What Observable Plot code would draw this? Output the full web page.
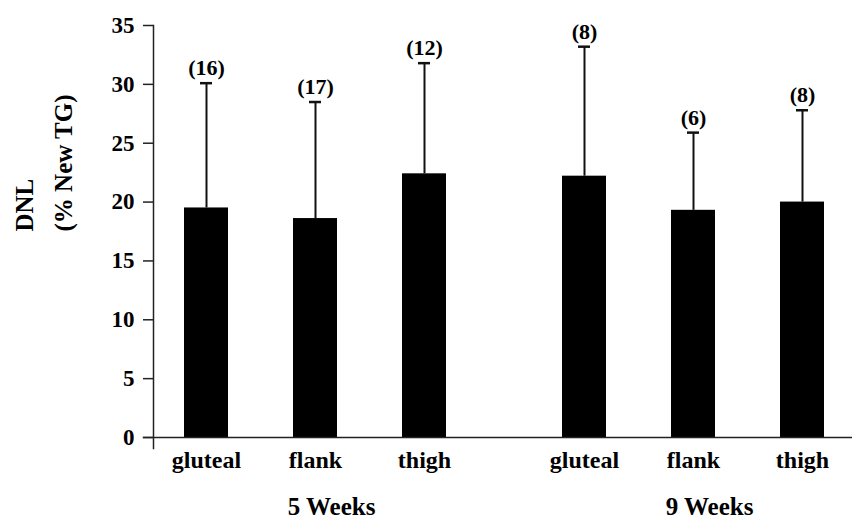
<!DOCTYPE html>
<html><head><meta charset="utf-8">
<script src="https://cdn.jsdelivr.net/npm/d3@7"></script>
<script src="https://cdn.jsdelivr.net/npm/@observablehq/plot@0.6"></script>
<style>
html,body{margin:0;padding:0;background:#fff;}
</style></head><body><div id="chart"></div>
<script>
const groups = ["5 Weeks","5 Weeks","5 Weeks","9 Weeks","9 Weeks","9 Weeks"];
const sites = ["gluteal","flank","thigh","gluteal","flank","thigh"];
const means = [19.5, 18.6, 22.4, 22.2, 19.3, 20.0];
const sds = [10.6, 9.9, 9.4, 11.0, 6.6, 7.8];
const nLabels = ["(16)","(17)","(12)","(8)","(6)","(8)"];
const yTicks = [0,5,10,15,20,25,30,35];
const groupNames = ["5 Weeks","9 Weeks"];
const siteNames = ["gluteal","flank","thigh"];
const yTitle = ["DNL","(% New TG)"];

const data = groups.map((g,i)=>({g, site: sites[i], mean: means[i], hi: means[i]+sds[i], n: nLabels[i]}));
const font = "'Liberation Serif', 'Times New Roman', serif";

const chart = Plot.plot({
  width: 852, height: 520,
  marginTop: 25, marginBottom: 83, marginLeft: 153, marginRight: 16,
  style: {fontFamily: font, fontWeight: "bold", color: "#000", background: "#fff"},
  fx: {domain: groupNames, paddingInner: 0.1946, paddingOuter: 0, label: null},
  x: {domain: siteNames, paddingInner: 0.593, paddingOuter: 0.187, align: 0.756, label: null},
  y: {domain: [0,35], label: null},
  marks: [
    Plot.ruleX(data, {fx:"g", x:"site", y1:"mean", y2:"hi", stroke:"#111", strokeWidth: 2}),
    Plot.tickY(data, {fx:"g", x:"site", y:"hi", stroke:"#111", strokeWidth: 2.5, insetLeft: 16, insetRight: 16}),
    Plot.barY(data, {fx:"g", x:"site", y:"mean", fill:"#000"}),
    Plot.text(data, {fx:"g", x:"site", y:"hi", text:"n", lineAnchor:"bottom", dy:-8, fontSize:22, fontFamily: font, fontWeight:"bold", fill:"#000"}),
    Plot.frame({anchor:"bottom", facet:"super", stroke:"#222", strokeWidth:1.5, insetLeft:-10, insetRight:-16}),
    Plot.frame({anchor:"left", facet:"super", stroke:"#222", strokeWidth:1.5, insetBottom:-11}),
    Plot.axisY({ticks: yTicks, tickSize:10, tickPadding:9, fontSize:23, fontFamily: font, fontWeight:"bold", label:null, stroke:"#222", strokeWidth:1.5}),
    Plot.axisX({tickSize:0, tickPadding:13, fontSize:24, fontFamily: font, fontWeight:"bold", label:null}),
    Plot.axisFx({anchor:"bottom", tickSize:0, tickPadding:60, fontSize:25, fontFamily: font, fontWeight:"bold", dx:26, label:null}),
    Plot.text([{g: groupNames[0], t: yTitle[0]}], {fx:"g", text:"t", frameAnchor:"left", rotate:-90, dx:-129, fontSize:25, fontFamily: font, fontWeight:"bold", fill:"#000"}),
    Plot.text([{g: groupNames[0], t: yTitle[1]}], {fx:"g", text:"t", frameAnchor:"left", rotate:-90, dx:-90, fontSize:25, fontFamily: font, fontWeight:"bold", fill:"#000"})
  ]
});
document.getElementById("chart").appendChild(chart);
</script>
</body></html>
